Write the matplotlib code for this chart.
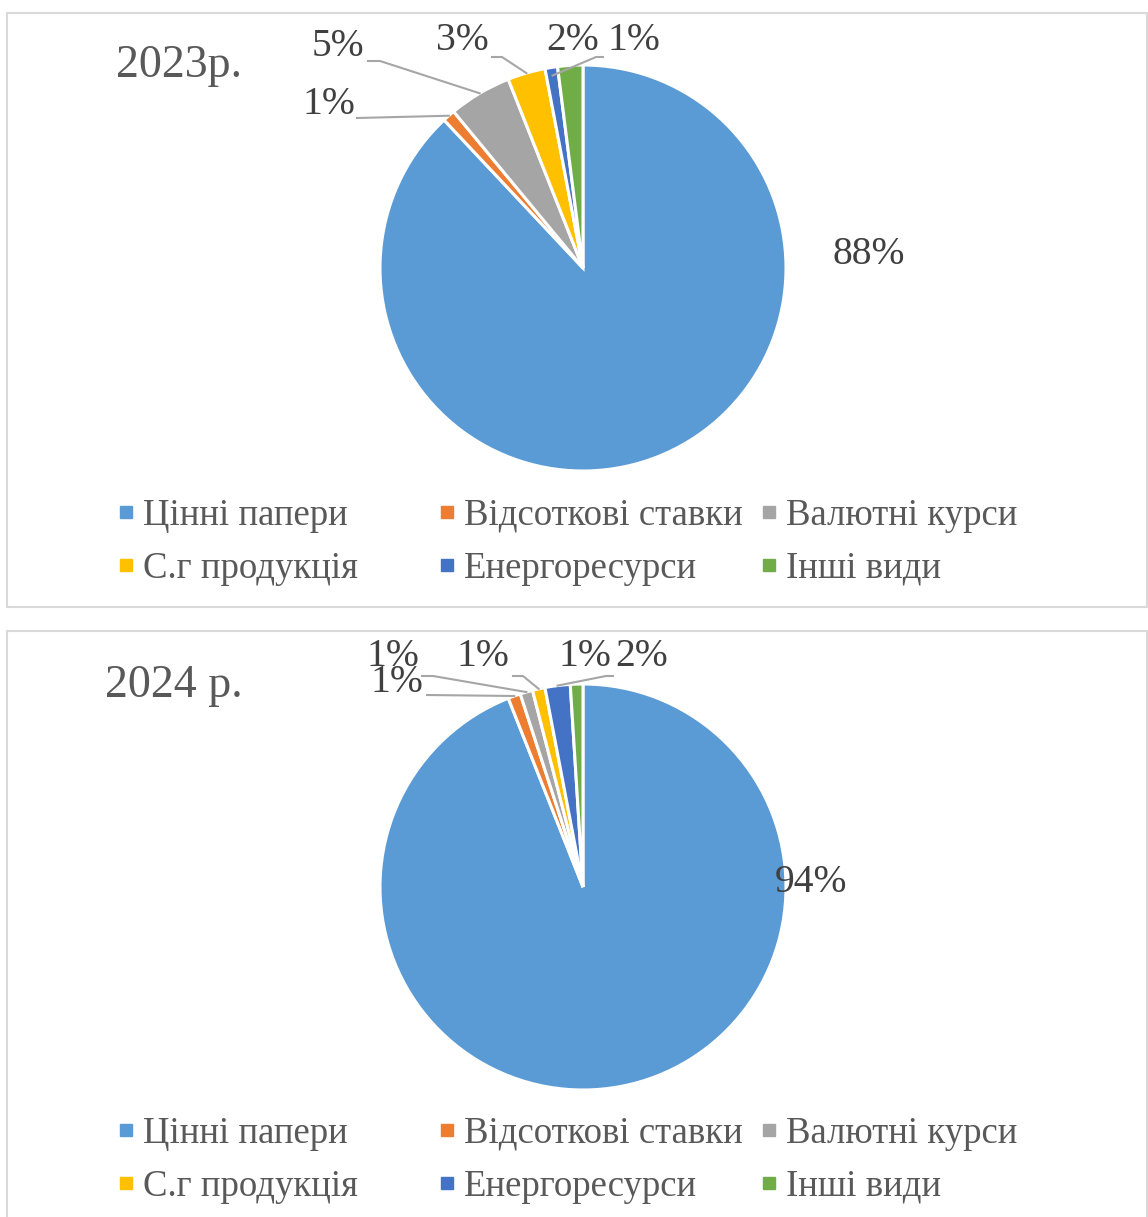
import numpy as np
import matplotlib
matplotlib.use("Agg")
import matplotlib.pyplot as plt
from matplotlib.lines import Line2D
from matplotlib.patches import Rectangle

plt.rcParams["font.family"] = ["Liberation Serif", "DejaVu Serif"]

# data
categories = ["Цінні папери", "Відсоткові ставки", "Валютні курси",
              "С.г продукція", "Енергоресурси", "Інші види"]
shares_2023 = [88, 1, 5, 3, 1, 2]
shares_2024 = [94, 1, 1, 1, 2, 1]
titles = ["2023р.", "2024 р."]
colors = ["#5B9BD5", "#ED7D31", "#A5A5A5", "#FFC000", "#4472C4", "#70AD47"]

W, H = 1148, 1217
fig = plt.figure(figsize=(W / 100, H / 100), dpi=100)
ax = fig.add_axes([0, 0, 1, 1])


def Y(y):
    return H - y


LABEL_COLOR = "#404040"
LEADER = "#A6A6A6"

# label layout per panel (pixel positions): text centre, optional leader start/elbow
layout_2023 = [
    dict(text=(869, 254)),
    dict(text=(329, 105), start=(357, 118)),
    dict(text=(338, 47), start=(368, 61), elbow=(380, 61)),
    dict(text=(462, 41), start=(492, 57), elbow=(502, 57)),
    dict(text=(634, 41), start=(603, 57), elbow=(596, 57), r=0.96),
    dict(text=(573, 41)),
]
layout_2024 = [
    dict(text=(811, 882)),
    dict(text=(397, 682), start=(427, 695)),
    dict(text=(393, 656), start=(422, 676), elbow=(433, 676)),
    dict(text=(483, 657), start=(513, 676), elbow=(523, 676)),
    dict(text=(642, 657), start=(613, 676), elbow=(606, 676)),
    dict(text=(585, 657)),
]

panels = [
    dict(values=shares_2023, title=titles[0], title_pos=(116, 77), off=0,
         center=(583, 268), layout=layout_2023),
    dict(values=shares_2024, title=titles[1], title_pos=(105, 697), off=618,
         center=(583, 887), layout=layout_2024),
]

R = 203
for p in panels:
    off = p["off"]
    # panel border
    ax.add_patch(Rectangle((7, Y(607 + off)), 1140, 594, fill=False,
                           edgecolor="#D9D9D9", linewidth=1.5, zorder=0))
    cx, cy = p["center"]
    vals = np.array(p["values"], dtype=float)
    wedges, _ = ax.pie(vals, colors=colors, startangle=90, counterclock=False,
                       center=(cx, Y(cy)), radius=R, frame=True,
                       wedgeprops=dict(edgecolor="white", linewidth=2.2))

    pct = vals / vals.sum() * 100
    for w, v, lay in zip(wedges, pct, p["layout"]):
        tx, ty = lay["text"]
        ax.text(tx, Y(ty), f"{v:.0f}%", ha="center", va="center",
                fontsize=28.5, color=LABEL_COLOR)
        if "start" in lay:
            mid = np.deg2rad((w.theta1 + w.theta2) / 2)
            rr = R * lay.get("r", 1.0)
            ex, ey = cx + rr * np.cos(mid), Y(cy) + rr * np.sin(mid)
            pts = [lay["start"]]
            if "elbow" in lay:
                pts.append(lay["elbow"])
            xs = [q[0] for q in pts] + [ex]
            ys = [Y(q[1]) for q in pts] + [ey]
            ax.plot(xs, ys, color=LEADER, linewidth=1.5, zorder=3)

    ax.text(p["title_pos"][0], Y(p["title_pos"][1]), p["title"], ha="left",
            va="baseline", fontsize=33, color="#595959")

    # legend: three columns, two rows
    col_x = [119, 440, 762]
    for c in range(3):
        idx = [c, c + 3]
        handles = [Line2D([], [], marker="s", linestyle="none", markersize=8,
                          color=colors[i]) for i in idx]
        leg = fig.legend(handles, [categories[i] for i in idx],
                         loc="center left",
                         bbox_to_anchor=(col_x[c] / W, 1 - (542 + off) / H),
                         frameon=False, fontsize=26.5, handlelength=0.4,
                         handletextpad=0.25, labelspacing=0.5, borderpad=0,
                         borderaxespad=0)
        for t in leg.get_texts():
            t.set_color("#595959")

ax.set_xlim(0, W)
ax.set_ylim(0, H)
ax.set_aspect("equal")
ax.axis("off")

fig.savefig("out.png", dpi=100)
